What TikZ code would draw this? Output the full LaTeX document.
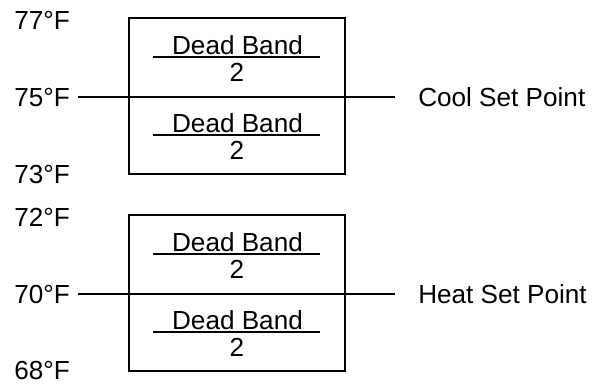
\documentclass[tikz,border=0pt]{standalone}
\usepackage{fontspec}
\setmainfont{Liberation Sans}
\begin{document}
\begin{tikzpicture}[x=0.75pt,y=-0.75pt,
    every node/.style={font=\fontsize{19.6}{23}\selectfont, inner sep=0pt},
    band/.style={draw, line width=0.9pt, minimum width=162pt, minimum height=117pt},
    temp/.style={anchor=west}]
  \useasboundingbox (0,0) rectangle (600,383);
  \foreach \yy/\mid/\hi/\lo/\sp/\nm/\dl in {96/75/77/73/Cool/c/78, 293/70/72/68/Heat/h/77}
  {\node[band] (box\nm) at (237,\yy) {};
   \node[temp] (mid\nm) at (14,\yy+1) {\mid°F};
   \node[temp] (hi\nm) at (14,\yy-76) {\hi°F};
   \node[temp] (lo\nm) at (14,\yy+\dl) {\lo°F};
   \node[anchor=west] (set\nm) at (418,\yy+1) {\sp{} Set Point};
   \draw[line width=0.8pt, shorten <=6pt, shorten >=17pt] (mid\nm.east) -- (set\nm.west);
   \foreach \d/\k in {-39/a,39/b}
   {\node (db\nm\k) at (237.5,\yy+\d-12) {Dead Band};
    \node (two\nm\k) at (237,\yy+\d+15) {2};
    \draw[line width=0.8pt] (153,\yy+\d) -- (320,\yy+\d);
   }
  }
\end{tikzpicture}
\end{document}
